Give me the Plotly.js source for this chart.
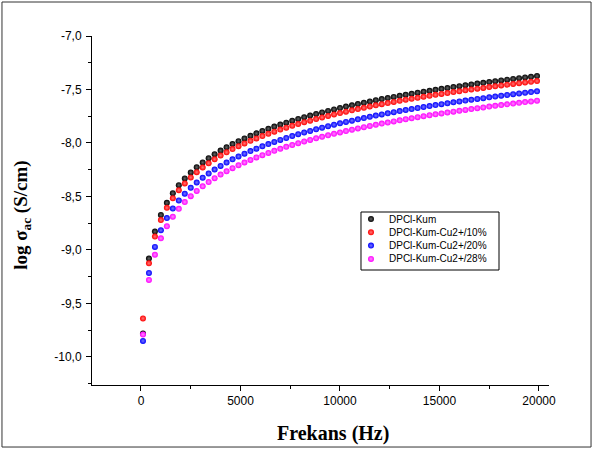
<!DOCTYPE html>
<html>
<head>
<meta charset="utf-8">
<script src="https://cdn.plot.ly/plotly-3.0.1.min.js"></script>
<style>html,body{margin:0;padding:0;background:#fff;}#chart{width:598px;height:450px;}</style>
</head>
<body>
<div id="chart"></div>
<script>
const freq = [100,400,700,1000,1300,1600,1900,2200,2500,2800,3100,3400,3700,4000,4300,4600,4900,5200,5500,5800,6100,6400,6700,7000,7300,7600,7900,8200,8500,8800,9100,9400,9700,10000,10300,10600,10900,11200,11500,11800,12100,12400,12700,13000,13300,13600,13900,14200,14500,14800,15100,15400,15700,16000,16300,16600,16900,17200,17500,17800,18100,18400,18700,19000,19300,19600,19900];

const dpclKum = [-9.78,-9.08,-8.828,-8.673,-8.559,-8.469,-8.394,-8.331,-8.275,-8.226,-8.182,-8.142,-8.105,-8.071,-8.040,-8.010,-7.983,-7.957,-7.933,-7.910,-7.888,-7.867,-7.847,-7.828,-7.810,-7.792,-7.775,-7.759,-7.744,-7.729,-7.714,-7.700,-7.686,-7.673,-7.660,-7.648,-7.636,-7.624,-7.612,-7.601,-7.590,-7.580,-7.569,-7.559,-7.549,-7.540,-7.530,-7.521,-7.512,-7.503,-7.494,-7.486,-7.477,-7.469,-7.461,-7.453,-7.445,-7.438,-7.430,-7.423,-7.415,-7.408,-7.401,-7.394,-7.387,-7.381,-7.374];

const cu10 = [-9.64,-9.125,-8.875,-8.720,-8.606,-8.516,-8.441,-8.378,-8.322,-8.273,-8.229,-8.189,-8.152,-8.118,-8.087,-8.057,-8.030,-8.004,-7.980,-7.957,-7.935,-7.914,-7.894,-7.875,-7.857,-7.839,-7.822,-7.806,-7.791,-7.776,-7.761,-7.747,-7.733,-7.720,-7.707,-7.695,-7.683,-7.671,-7.659,-7.648,-7.637,-7.627,-7.616,-7.606,-7.596,-7.587,-7.577,-7.568,-7.559,-7.550,-7.541,-7.533,-7.524,-7.516,-7.508,-7.500,-7.492,-7.485,-7.477,-7.470,-7.462,-7.455,-7.448,-7.441,-7.434,-7.428,-7.421];

const cu20 = [-9.85,-9.215,-8.971,-8.816,-8.702,-8.612,-8.537,-8.474,-8.418,-8.369,-8.325,-8.285,-8.248,-8.214,-8.183,-8.153,-8.126,-8.100,-8.076,-8.053,-8.031,-8.010,-7.990,-7.971,-7.953,-7.935,-7.918,-7.902,-7.887,-7.872,-7.857,-7.843,-7.829,-7.816,-7.803,-7.791,-7.779,-7.767,-7.755,-7.744,-7.733,-7.723,-7.712,-7.702,-7.692,-7.683,-7.673,-7.664,-7.655,-7.646,-7.637,-7.629,-7.620,-7.612,-7.604,-7.596,-7.588,-7.581,-7.573,-7.566,-7.558,-7.551,-7.544,-7.537,-7.530,-7.524,-7.517];

const cu28 = [-9.79,-9.28,-9.044,-8.891,-8.778,-8.689,-8.615,-8.552,-8.497,-8.448,-8.405,-8.365,-8.329,-8.295,-8.264,-8.235,-8.208,-8.182,-8.158,-8.135,-8.114,-8.093,-8.073,-8.054,-8.036,-8.019,-8.002,-7.986,-7.971,-7.956,-7.942,-7.928,-7.914,-7.901,-7.888,-7.876,-7.864,-7.852,-7.841,-7.830,-7.819,-7.809,-7.798,-7.788,-7.778,-7.769,-7.759,-7.750,-7.741,-7.732,-7.724,-7.715,-7.707,-7.699,-7.691,-7.683,-7.675,-7.668,-7.660,-7.653,-7.646,-7.639,-7.632,-7.625,-7.618,-7.612,-7.605];

const seriesNames = ['DPCl-Kum','DPCl-Kum-Cu2+/10%','DPCl-Kum-Cu2+/20%','DPCl-Kum-Cu2+/28%'];
const seriesColors = ['#000000','#ff0000','#0000ff','#ff00ff'];
const seriesHighlights = ['#666666','#ff7777','#7777ff','#ff88ff'];
const seriesValues = [dpclKum, cu10, cu20, cu28];

const xTickVals = [0,5000,10000,15000,20000];
const xTickText = ['0','5000','10000','15000','20000'];
const yTickVals = [-10.0,-9.5,-9.0,-8.5,-8.0,-7.5,-7.0];
const yTickText = ['-10,0','-9,5','-9,0','-8,5','-8,0','-7,5','-7,0'];

const FONT_SANS = 'Liberation Sans, Arial, sans-serif';
const FONT_SERIF = 'Liberation Serif, Times New Roman, serif';

function markerStyle(i) {
  return {size: 6, color: seriesColors[i], line: {width: 0},
    gradient: {type: 'radial', color: seriesHighlights[i]}};
}

const traces = seriesValues.map((vals, i) => ({
  x: freq, y: vals, type: 'scatter', mode: 'markers', name: seriesNames[i],
  marker: markerStyle(i), cliponaxis: false, showlegend: false,
  xaxis: 'x', yaxis: 'y'
}));

// Custom compact legend drawn in its own small axes (units: pixels inside the box)
const legendRows = seriesNames.map((_, i) => 7 + 13.3 * i);
seriesNames.forEach((name, i) => {
  traces.push({x: [10], y: [legendRows[i]], type: 'scatter', mode: 'markers',
    marker: markerStyle(i), showlegend: false, hoverinfo: 'skip',
    xaxis: 'x2', yaxis: 'y2', cliponaxis: false});
});

const annotations = seriesNames.map((name, i) => ({
  xref: 'x2', yref: 'y2', x: 26, y: legendRows[i], text: name,
  xanchor: 'left', yanchor: 'middle', showarrow: false,
  font: {family: FONT_SANS, size: 10, color: '#000'}
}));
annotations.push({xref: 'paper', yref: 'paper', x: 0.527, y: -0.140,
  text: '<b>Frekans (Hz)</b>', showarrow: false, xanchor: 'center', yanchor: 'middle',
  font: {family: FONT_SERIF, size: 20, color: '#000'}});
annotations.push({xref: 'paper', yref: 'paper', x: -0.153, y: 0.485,
  text: '<b>log σ<sub>ac</sub> (S/cm)</b>', showarrow: false, textangle: -90,
  xanchor: 'center', yanchor: 'middle',
  font: {family: FONT_SERIF, size: 19, color: '#000'}});

const layout = {
  width: 598, height: 450,
  margin: {l: 92, r: 49, t: 36, b: 65},
  paper_bgcolor: '#ffffff', plot_bgcolor: 'rgba(0,0,0,0)',
  showlegend: false,
  xaxis: {range: [-2462, 20503], showgrid: false, zeroline: false,
    showline: true, linecolor: '#000', linewidth: 1,
    ticks: 'outside', ticklen: 5, tickcolor: '#000', tickwidth: 1,
    tickvals: xTickVals, ticktext: xTickText,
    minor: {ticks: 'outside', ticklen: 3, tickcolor: '#000', dtick: 2500, tick0: 0, showgrid: false},
    tickfont: {family: FONT_SANS, size: 12, color: '#000'}},
  yaxis: {range: [-10.262, -7.0], showgrid: false, zeroline: false,
    showline: true, linecolor: '#000', linewidth: 1,
    ticks: 'outside', ticklen: 5, tickcolor: '#000', tickwidth: 1,
    tickvals: yTickVals, ticktext: yTickText, ticklabelstandoff: 2,
    minor: {ticks: 'outside', ticklen: 3, tickcolor: '#000', dtick: 0.25, tick0: -10, showgrid: false},
    tickfont: {family: FONT_SANS, size: 12, color: '#000'}},
  xaxis2: {domain: [0.5886, 0.8906], range: [0, 138], visible: false, fixedrange: true, anchor: 'y2'},
  yaxis2: {domain: [0.3295, 0.4957], range: [58, 0], visible: false, fixedrange: true, anchor: 'x2'},
  annotations: annotations,
  shapes: [
    {type: 'rect', xref: 'paper', yref: 'paper',
      x0: -0.197, x1: 1.092, y0: -0.1777, y1: 1.0974,
      line: {color: '#333333', width: 1}},
    {type: 'rect', xref: 'paper', yref: 'paper',
      x0: 0.5886, x1: 0.8906, y0: 0.3295, y1: 0.4957,
      line: {color: '#000000', width: 1}}
  ]
};

Plotly.newPlot('chart', traces, layout, {displayModeBar: false, staticPlot: true});
</script>
</body>
</html>
